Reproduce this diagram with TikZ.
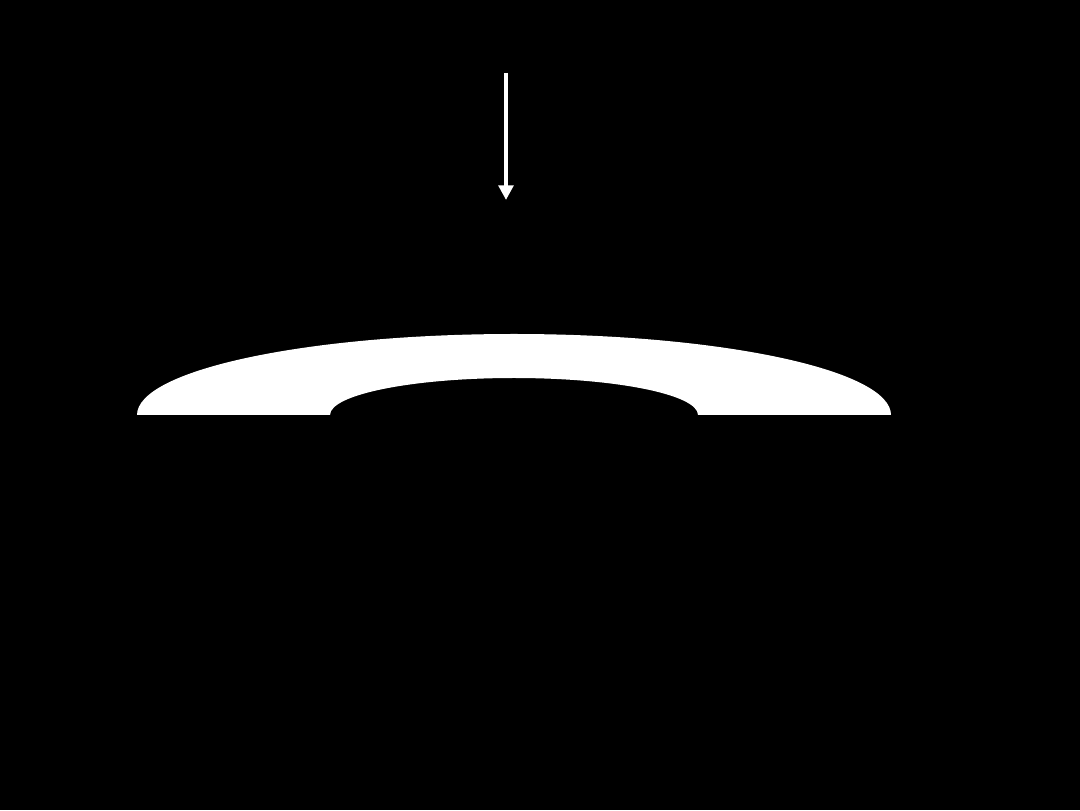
\documentclass[tikz,border=0pt]{standalone}
\usetikzlibrary{arrows.meta}

\begin{document}
\begin{tikzpicture}[x=0.75pt,y=0.75pt,
  beam/.style={draw=white,line width=3pt,-{Triangle[length=11pt,width=11pt]}},
  lens/.style={fill=white}]
  \fill[black] (0,0) rectangle (1080,810);
  \useasboundingbox (0,0) rectangle (1080,810);
  \coordinate (ray_top) at (506,737);
  \coordinate (ray_tip) at (506,610);
  \draw[beam] (ray_top) -- (ray_tip);
  % half ring
  \fill[lens] (137,395) arc[start angle=180,end angle=0,x radius=377,y radius=81]
    -- (698,395) arc[start angle=0,end angle=180,x radius=184,y radius=37] -- cycle;
\end{tikzpicture}
\end{document}
